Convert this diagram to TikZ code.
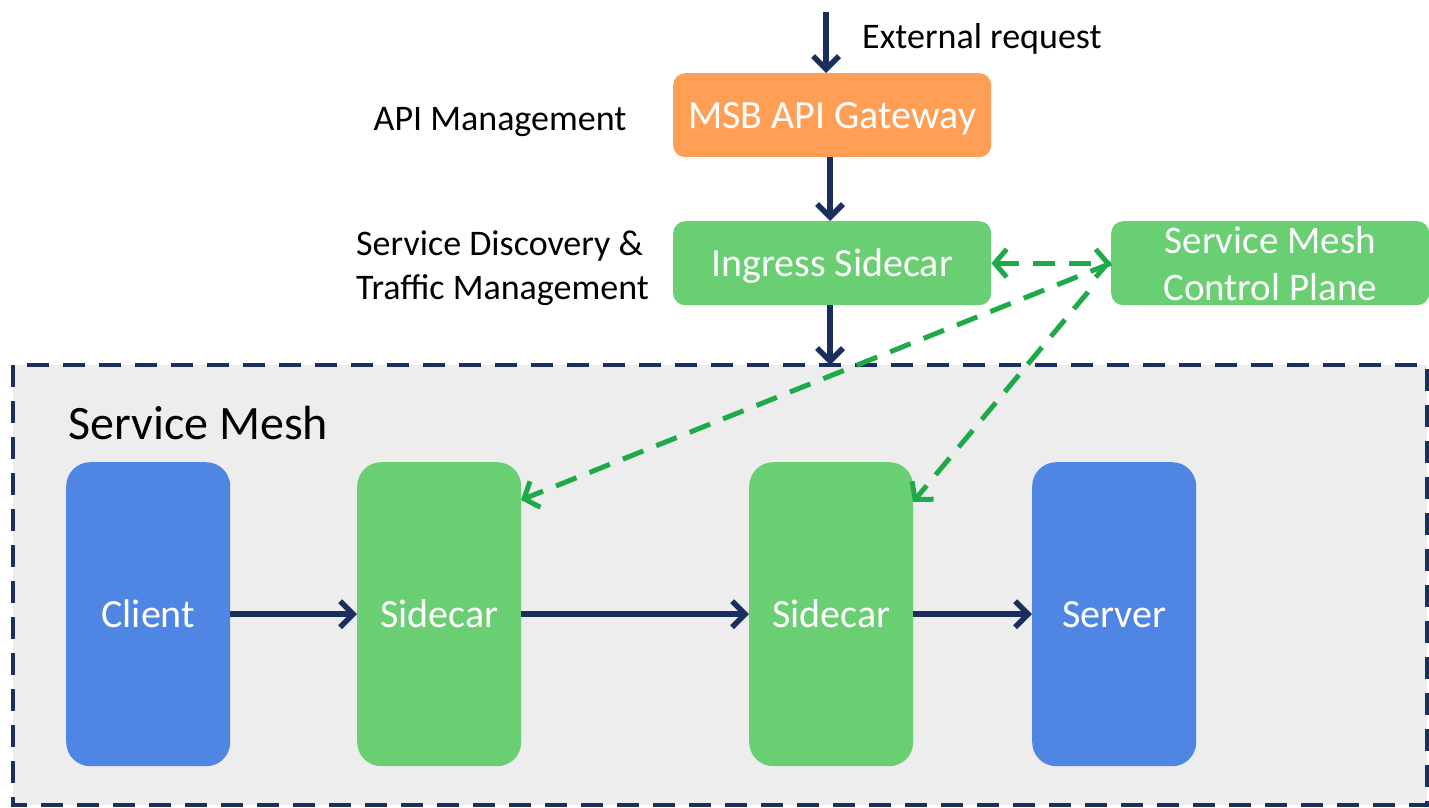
\documentclass[tikz,border=0pt]{standalone}
\usepackage{fontspec}
\setmainfont{Carlito}
\usetikzlibrary{arrows.meta}
\definecolor{navy}{HTML}{1B2F5E}
\definecolor{meshgray}{HTML}{EDEDED}
\definecolor{orangebox}{HTML}{FF9F55}
\definecolor{greenbox}{HTML}{6ACF72}
\definecolor{bluebox}{HTML}{4F86E4}
\definecolor{ctrlgreen}{HTML}{1FAA4A}
\tikzset{
  x=1pt, y=-1pt,
  box/.style={draw=none, rounded corners=12pt, text=white, align=center,
    font=\fontsize{40}{44}\selectfont, inner sep=0pt, anchor=north west},
  widebox/.style={box, minimum width=318pt, minimum height=84pt},
  tallbox/.style={box, rounded corners=24pt, minimum width=164pt, minimum height=304pt},
  flow/.style={navy, line width=5.5pt, -{Straight Barb[length=13pt,width=26pt,line width=5.5pt]}},
  ctrl/.style={ctrlgreen, line width=5pt, dash pattern=on 22pt off 14pt,
    {Straight Barb[length=12pt,width=28pt,line width=5pt]}-{Straight Barb[length=12pt,width=28pt,line width=5pt]}},
  ctrlone/.style={ctrlgreen, line width=5pt, dash pattern=on 22pt off 14pt,
    -{Straight Barb[length=12pt,width=28pt,line width=5pt]}},
  label/.style={font=\fontsize{36}{44}\selectfont, inner sep=0pt, yshift=-3pt},
}
\begin{document}
\begin{tikzpicture}
\useasboundingbox (0,0) rectangle (1429,808);
% service mesh area
\fill[meshgray] (13,365) rectangle (1427,805);
\draw[navy, line width=4pt, dash pattern=on 22pt off 14pt] (13,365) rectangle (1427,805);
\node[label, anchor=west, font=\fontsize{48}{52}\selectfont] (meshtitle) at (68,420) {Service Mesh};

% upper boxes
\node[widebox, fill=orangebox, text height=32pt, text depth=6pt] (gw) at (673,73) {MSB API Gateway};
\node[widebox, fill=greenbox, text height=32pt, text depth=6pt] (ingress) at (673,221) {Ingress Sidecar};
\node[widebox, fill=greenbox, font=\fontsize{39}{47}\selectfont] (cp) at (1111,221) {Service Mesh\\Control Plane};

% mesh boxes
\node[tallbox, fill=bluebox] (client) at (66,462) {Client};
\node[tallbox, fill=greenbox] (sc1) at (357,462) {Sidecar};
\node[tallbox, fill=greenbox] (sc2) at (749,462) {Sidecar};
\node[tallbox, fill=bluebox] (server) at (1032,462) {Server};

% labels
\node[label, anchor=west] (ext) at (862,36) {External request};
\node[label, anchor=center] (apim) at (500,119) {API Management};
\node[label, anchor=west, align=left] (sdtm) at (356,265) {Service Discovery \&\\Traffic Management};

% connectors
\coordinate (extin) at (826,12);
\coordinate (meshtop) at (830,365);
\draw[flow] (extin) -- (gw.north -| extin);
\draw[flow] (gw.south -| meshtop) -- (ingress.north -| meshtop);
\draw[flow] (ingress.south -| meshtop) -- (meshtop);
\draw[flow] (client.east) -- (sc1.west);
\draw[flow] (sc1.east) -- (sc2.west);
\draw[flow] (sc2.east) -- (server.west);

% control plane links
\coordinate (sc1tip) at (521,500);
\coordinate (sc2tip) at (913,502);
\draw[ctrl] (ingress.east) -- (cp.west);
\draw[ctrlone] (cp.west) -- (sc1tip);
\draw[ctrlone] (1088,292) -- (sc2tip);
\end{tikzpicture}
\end{document}
